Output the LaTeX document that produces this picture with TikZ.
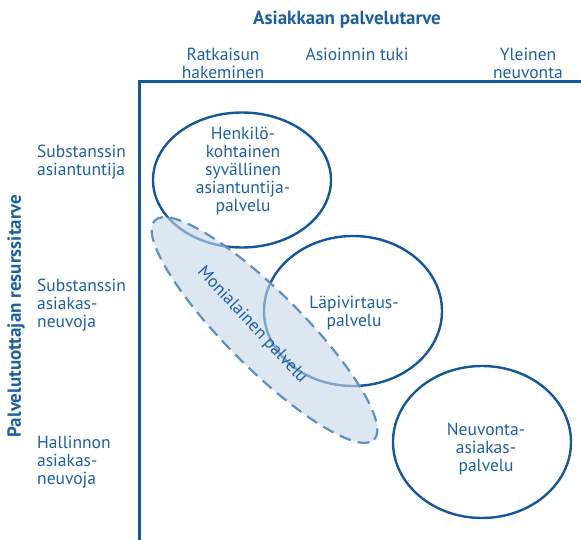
\documentclass[tikz,border=0pt]{standalone}
\usepackage{fontspec}
\setmainfont{PT Sans}
\usepackage{tikz}
\usetikzlibrary{shapes.geometric, positioning}
\definecolor{myblue}{RGB}{20,88,155}
\definecolor{txtblue}{RGB}{28,96,162}
\definecolor{dashblue}{RGB}{95,145,190}
\definecolor{fillblue}{RGB}{197,215,232}
\tikzset{
  service/.style={ellipse, draw=myblue, line width=2.4pt, inner sep=0pt},
  multi/.style={ellipse, draw=dashblue, fill=fillblue, fill opacity=0.6,
    line width=2.2pt, dash pattern=on 12pt off 7pt, inner sep=0pt},
  lbl/.style={text=txtblue, align=center, inner sep=1pt,
    font=\fontsize{17.5}{18}\selectfont},
  rowlbl/.style={lbl, align=left},
  axtitle/.style={text=txtblue, font=\fontsize{19}{22}\selectfont\bfseries},
  axis/.style={draw=myblue, line width=3pt}
}
\begin{document}
\begin{tikzpicture}[x=1pt, y=-1pt]
    \useasboundingbox (0,0) rectangle (581,540);

    % Axes
    \coordinate (origin) at (139.5,81.7);
    \coordinate (xend) at (581,81.7);
    \coordinate (yend) at (139.5,540);
    \draw[axis] (xend) -- (origin) -- (yend);

    % Axis titles
    \node[axtitle] (xtitle) at (347,20) {Asiakkaan palvelutarve};
    \node[axtitle, rotate=90] (ytitle) at (16,316) {Palvelutuottajan resurssitarve};

    % Columns
    \node[lbl] (col1) at (223,63) {Ratkaisun\\hakeminen};
    \node[lbl] (col2) at (357,54) {Asioinnin tuki};
    \node[lbl] (col3) at (528,63) {Yleinen\\neuvonta};

    % Rows
    \node[rowlbl, anchor=west] (row1) at (36,162) {Substanssin\\asiantuntija};
    \node[rowlbl, anchor=west] (row2) at (36,305) {Substanssin\\asiakas-\\neuvoja};
    \node[rowlbl, anchor=west] (row3) at (36,462) {Hallinnon\\asiakas-\\neuvoja};

    % Services
    \node[service, minimum width=178, minimum height=135] (expert) at (242,180) {};
    \node[service, minimum width=178, minimum height=150] (flow) at (353,311) {};
    \node[service, minimum width=178, minimum height=152] (advice) at (482,442) {};

    % Multidisciplinary
    \node[multi, rotate=-45, minimum width=310, minimum height=76] (multi) at (264.5,330) {};

    % Service texts
    \node[lbl] (experttext) at (243,171) {Henkilö-\\kohtainen\\syvällinen\\asiantuntija-\\palvelu};
    \node[lbl] (flowtext) at (354,313) {Läpivirtaus-\\palvelu};
    \node[lbl] (advicetext) at (486,449) {Neuvonta-\\asiakas-\\palvelu};
    \node[lbl, rotate=-47] (multitext) at (252,325) {Monialainen palvelu};
\end{tikzpicture}
\end{document}
